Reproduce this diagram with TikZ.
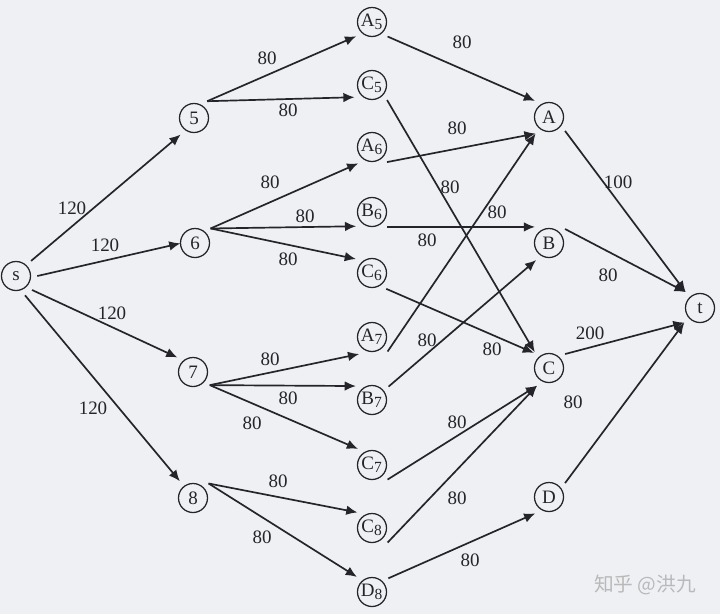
\documentclass[tikz,border=0pt]{standalone}
\usepackage{fontspec}
\setmainfont{Liberation Serif}
\newfontfamily\cjk{Noto Sans CJK SC}
\usetikzlibrary{arrows.meta}
\definecolor{paper}{RGB}{238,240,244}
\definecolor{ink}{RGB}{36,36,42}
\tikzset{
  vtx/.style={draw=ink, circle, line width=0.9pt, minimum size=0.725cm, inner sep=0pt,
    outer sep=0.17cm, text=ink, font=\fontsize{13.5}{15}\selectfont},
  arr/.style={draw=ink, line width=1.2pt, -{Latex[length=0.28cm,width=0.24cm]}},
  wt/.style={text=ink, font=\fontsize{13.5}{15}\selectfont, inner sep=1pt},
}
\newcommand\subi[1]{\textsubscript{\fontsize{11}{12}\selectfont #1}}
\begin{document}
\begin{tikzpicture}[x=0.025cm, y=-0.025cm]
\fill[paper] (0,0) rectangle (720,614);
\useasboundingbox (0,0) rectangle (720,614);

% source and first layer
\node[vtx] (s) at (16,276) {s};
\node[vtx] (n5) at (194,118) {5};
\node[vtx] (n6) at (195,243) {6};
\node[vtx] (n7) at (193,372) {7};
\node[vtx] (n8) at (193,498) {8};

% middle layer
\node[vtx] (A5) at (372,22) {A\subi{5}};
\node[vtx] (C5) at (372,85) {C\subi{5}};
\node[vtx] (A6) at (372,147) {A\subi{6}};
\node[vtx] (B6) at (372,212) {B\subi{6}};
\node[vtx] (C6) at (372,273) {C\subi{6}};
\node[vtx] (A7) at (372,337) {A\subi{7}};
\node[vtx] (B7) at (372,400) {B\subi{7}};
\node[vtx] (C7) at (372,465) {C\subi{7}};
\node[vtx] (C8) at (372,528) {C\subi{8}};
\node[vtx] (D8) at (372,592) {D\subi{8}};

% last layer and sink
\node[vtx] (A) at (549,117) {A};
\node[vtx] (B) at (549,243) {B};
\node[vtx] (C) at (549,368) {C};
\node[vtx] (D) at (549,497) {D};
\node[vtx] (t) at (700,308) {t};

\draw[arr] (s.45) -- (n5.231);
\draw[arr, shorten >=-0.17cm] (s.0) -- (n6.185);
\draw[arr] (s.-41) -- (n7.137);
\draw[arr] (s.-65) -- (n8.128);
\node[wt] (w1) at (72,208) {120};
\node[wt] (w2) at (105,245) {120};
\node[wt] (w3) at (112,313) {120};
\node[wt] (w4) at (93,408) {120};

\draw[arr] (n5.52) -- (A5.222);
\draw[arr] (n5.52) -- (C5.215);
\draw[arr] (n6.43) -- (A6.230);
\draw[arr] (n6.43) -- (B6.222);
\draw[arr] (n6.43) -- (C6.139);
\draw[arr] (n7.-38) -- (A7.233);
\draw[arr] (n7.-38) -- (B7.139);
\draw[arr] (n7.-38) -- (C7.131);
\draw[arr] (n8.43) -- (C8.133);
\draw[arr] (n8.43) -- (D8.135);
\node[wt] (w5) at (267,58) {80};
\node[wt] (w6) at (288,110) {80};
\node[wt] (w7) at (270,182) {80};
\node[wt] (w8) at (305,216) {80};
\node[wt] (w9) at (288,259) {80};
\node[wt] (w10) at (270,359) {80};
\node[wt] (w11) at (288,398) {80};
\node[wt] (w12) at (252,423) {80};
\node[wt] (w13) at (278,481) {80};
\node[wt] (w14) at (262,537) {80};

\draw[arr] (A5.-43) -- (A.131);
\draw[arr] (C5.-45) -- (C.132);
\draw[arr] (A6.-45) -- (A.231);
\draw[arr] (B6.-45) -- (B.131);
\draw[arr] (C6.-48) -- (C.135);
\draw[arr] (A7.-43) -- (A.231);
\draw[arr] (B7.39) -- (B.233);
\draw[arr] (C7.-43) -- (C.236);
\draw[arr] (C8.-43) -- (C.236);
\draw[arr] (D8.40) -- (D.230);
\node[wt] (w15) at (462,42) {80};
\node[wt] (w16) at (457,128) {80};
\node[wt] (w17) at (450,187) {80};
\node[wt] (w18) at (497,212) {80};
\node[wt] (w19) at (427,240) {80};
\node[wt] (w20) at (427,340) {80};
\node[wt] (w21) at (492,349) {80};
\node[wt] (w22) at (457,422) {80};
\node[wt] (w23) at (457,498) {80};
\node[wt] (w24) at (470,560) {80};

\draw[arr] (A.-41) -- (t.132);
\draw[arr] (B.41) -- (t.132);
\draw[arr] (C.41) -- (t.223);
\draw[arr] (D.41) -- (t.223);
\node[wt] (w25) at (618,182) {100};
\node[wt] (w26) at (608,275) {80};
\node[wt] (w27) at (590,333) {200};
\node[wt] (w28) at (573,402) {80};

\node[text=gray!55, font=\cjk\fontsize{14}{16}\selectfont] (mark) at (645,585) {知乎 @洪九};
\end{tikzpicture}
\end{document}
